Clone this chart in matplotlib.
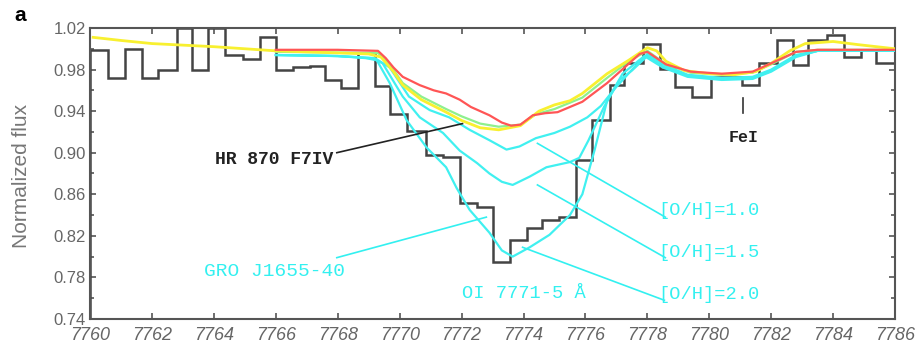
import matplotlib
matplotlib.use("Agg")
from matplotlib import pyplot as plt
from matplotlib.ticker import MultipleLocator

# observed spectrum of HR 870 (histogram): bin edges and flux
hr_edges = [7760.0, 7760.58, 7761.13, 7761.68, 7762.2, 7762.8, 7763.3, 7763.8, 7764.35,
            7764.95, 7765.5, 7766.0, 7766.55, 7767.1, 7767.6, 7768.1, 7768.65, 7769.2,
            7769.7, 7770.25, 7770.85, 7771.4, 7771.95, 7772.5, 7773.0, 7773.55, 7774.1,
            7774.6, 7775.15, 7775.7, 7776.2, 7776.8, 7777.25, 7777.85, 7778.4, 7778.9,
            7779.45, 7780.05, 7781.05, 7781.6, 7782.2, 7782.7, 7783.2, 7783.8, 7784.35,
            7784.9, 7785.4, 7786.0]
hr_flux = [0.999, 0.972, 1.000, 0.972, 0.980, 1.020, 0.980, 1.020, 0.994,
           0.990, 1.011, 0.980, 0.982, 0.983, 0.970, 0.962, 0.996, 0.964,
           0.937, 0.921, 0.898, 0.896, 0.852, 0.848, 0.795, 0.816, 0.828,
           0.835, 0.838, 0.893, 0.931, 0.965, 0.986, 1.005, 0.981, 0.963,
           0.954, 0.973, 0.965, 0.986, 1.008, 0.984, 1.008, 1.013, 0.992,
           0.999, 0.986]

yellow_wl = [7760.1, 7761, 7762, 7764, 7766, 7767, 7768, 7769, 7769.4, 7769.8, 7770.1,
             7770.7, 7771.5, 7772.0, 7772.6, 7773.2, 7773.9, 7774.5, 7775.0, 7775.5,
             7775.9, 7776.7, 7777.4, 7778.0, 7778.3, 7778.6, 7779.2, 7780.0, 7780.8,
             7781.5, 7782.0, 7782.6, 7783.1, 7784.0, 7784.8, 7786.0]
yellow_fl = [1.011, 1.008, 1.005, 1.002, 0.998, 0.997, 0.996, 0.995, 0.992, 0.978, 0.965,
             0.951, 0.939, 0.931, 0.924, 0.922, 0.926, 0.940, 0.946, 0.950,
             0.957, 0.976, 0.989, 1.001, 0.998, 0.988, 0.979, 0.976, 0.975,
             0.978, 0.986, 0.998, 1.005, 1.007, 1.004, 1.000]

red_wl = [7766, 7768, 7769.3, 7769.55, 7769.8, 7770.1, 7770.65, 7771.1, 7771.5, 7771.94,
          7772.3, 7772.9, 7773.3, 7773.6, 7773.9, 7774.3, 7774.7, 7775.1, 7775.9, 7776.7,
          7777.3, 7777.75, 7778.0, 7778.6, 7779.4, 7780.4, 7781.4, 7782.0, 7782.8, 7783.5,
          7786]
red_fl = [0.999, 0.999, 0.998, 0.991, 0.982, 0.973, 0.965, 0.960, 0.957, 0.951,
          0.944, 0.936, 0.929, 0.926, 0.927, 0.936, 0.938, 0.939, 0.949, 0.967,
          0.983, 0.995, 0.997, 0.985, 0.978, 0.976, 0.978, 0.986, 0.997, 0.999,
          0.999]

green_wl = [7766, 7769.3, 7769.6, 7770.1, 7770.7, 7771.5, 7772.0, 7772.6, 7773.2, 7773.9,
            7774.4, 7775.0, 7775.9, 7776.7, 7777.4, 7778.0, 7778.6, 7779.4, 7780.4,
            7781.4, 7782.0, 7782.8, 7783.5, 7786]
green_fl = [0.997, 0.996, 0.988, 0.967, 0.954, 0.942, 0.935, 0.928, 0.925, 0.927,
            0.937, 0.942, 0.953, 0.972, 0.988, 0.998, 0.985, 0.977, 0.975,
            0.977, 0.985, 0.997, 0.999, 0.999]

oh10_wl = [7766, 7768, 7769.2, 7769.68, 7770.3, 7770.97, 7771.6, 7772.26, 7772.9, 7773.45,
           7773.87, 7774.4, 7775.0, 7775.5, 7776.06, 7776.5, 7776.9, 7777.6, 7778.0,
           7778.5, 7779.3, 7780.4, 7781.4, 7782.0, 7782.8, 7783.5, 7786]
oh10_fl = [0.994, 0.993, 0.991, 0.982, 0.954, 0.941, 0.934, 0.922, 0.912, 0.903,
           0.906, 0.914, 0.919, 0.925, 0.934, 0.945, 0.960, 0.983, 0.995,
           0.985, 0.975, 0.972, 0.973, 0.980, 0.994, 0.998, 0.998]

oh15_wl = [7766, 7768, 7769.1, 7769.45, 7770.1, 7770.65, 7771.4, 7771.94, 7772.5, 7772.9,
           7773.3, 7773.65, 7774.2, 7774.74, 7775.5, 7775.8, 7776.1, 7776.6, 7777.1,
           7777.5, 7778.0, 7778.5, 7779.3, 7780.4, 7781.4, 7782.0, 7782.8, 7783.5, 7786]
oh15_fl = [0.994, 0.993, 0.991, 0.986, 0.954, 0.934, 0.919, 0.902, 0.890, 0.880,
           0.872, 0.869, 0.877, 0.886, 0.891, 0.895, 0.912, 0.944, 0.970,
           0.979, 0.993, 0.983, 0.974, 0.971, 0.972, 0.979, 0.993, 0.998, 0.998]

oh20_wl = [7766, 7768, 7768.9, 7769.26, 7769.68, 7770.23, 7770.87, 7771.5, 7771.84, 7772.26,
           7772.9, 7773.3, 7773.65, 7774.2, 7774.84, 7775.5, 7775.9, 7776.3, 7776.7,
           7777.2, 7777.9, 7778.5, 7779.3, 7780.4, 7781.4, 7782.0, 7782.8, 7783.5, 7786]
oh20_fl = [0.994, 0.993, 0.991, 0.989, 0.967, 0.931, 0.905, 0.886, 0.866, 0.845,
           0.823, 0.806, 0.800, 0.809, 0.821, 0.840, 0.860, 0.903, 0.950,
           0.976, 0.993, 0.982, 0.973, 0.970, 0.971, 0.978, 0.992, 0.998, 0.998]

# labels: text, text position, pointer start, pointer end, colour, weight, size
labels = [
    ("HR 870 F7IV", (7765.95, 0.893), (7767.97, 0.900), (7772.03, 0.928), '#222222', 'bold', 13),
    ("GRO J1655-40", (7765.95, 0.786), (7767.97, 0.799), (7772.8, 0.838), '#33f0f0', 'normal', 14),
    ("[O/H]=1.0", (7780.0, 0.844), (7774.45, 0.909), (7778.58, 0.838), '#33f0f0', 'normal', 13.5),
    ("[O/H]=1.5", (7780.0, 0.804), (7774.45, 0.869), (7778.58, 0.799), '#33f0f0', 'normal', 13.5),
    ("[O/H]=2.0", (7780.0, 0.764), (7773.97, 0.809), (7778.55, 0.758), '#33f0f0', 'normal', 13.5),
]

cyan = '#40f0f0'
gray = '#666666'

fig = plt.figure(figsize=(9.15, 3.52), dpi=100)
ax = fig.add_axes([0.0984, 0.0938, 0.8798, 0.8267])

ax.stairs(hr_flux, hr_edges, color='#444444', linewidth=1.8, zorder=2)
ax.plot(oh20_wl, oh20_fl, color=cyan, linewidth=1.6, zorder=3)
ax.plot(oh15_wl, oh15_fl, color=cyan, linewidth=1.6, zorder=3)
ax.plot(oh10_wl, oh10_fl, color=cyan, linewidth=1.6, zorder=3)
ax.plot(green_wl, green_fl, color='#8ef08e', linewidth=1.6, zorder=4)
ax.plot(yellow_wl, yellow_fl, color='#f8f030', linewidth=2.0, zorder=5)
ax.plot(red_wl, red_fl, color='#ff5555', linewidth=1.6, zorder=6)

for text, pos, p0, p1, col, weight, size in labels:
    ax.plot([p0[0], p1[0]], [p0[1], p1[1]], color=col, linewidth=1.2, zorder=3)
    ax.text(pos[0], pos[1], text, color=col, family='Liberation Mono',
            fontsize=size, fontweight=weight, ha='center', va='center')

ax.text(7774.0, 0.765, "OI 7771-5 Å", color='#33f0f0', family='Liberation Mono',
        fontsize=13.5, ha='center', va='center')

# Fe I marker
ax.plot([7781.1, 7781.1], [0.938, 0.953], color='#333333', linewidth=1.2)
ax.text(7781.1, 0.915, "FeI", color='#222222', family='Liberation Mono',
        fontsize=12, fontweight='bold', ha='center', va='center')

ax.set_xlim(7760, 7786)
ax.set_ylim(0.74, 1.02)
ax.xaxis.set_major_locator(MultipleLocator(2))
ax.yaxis.set_major_locator(MultipleLocator(0.04))
ax.yaxis.set_minor_locator(MultipleLocator(0.02))
ax.tick_params(which='both', direction='in', top=True, right=True, color='#555555',
               width=1.2)
ax.tick_params(which='major', length=4)
ax.tick_params(which='minor', length=3)
ax.tick_params(axis='x', which='major', pad=6)
ax.tick_params(axis='y', which='major', pad=3)
ax.set_xticks(range(7760, 7787, 2))
ax.set_xticklabels([str(v) for v in range(7760, 7787, 2)], color=gray,
                   family='Liberation Sans', fontsize=13, style='italic')
yt = [0.74 + 0.04 * i for i in range(8)]
ax.set_yticks(yt)
ax.set_yticklabels(["%.2f" % v for v in yt], color=gray, family='Liberation Sans',
                   fontsize=12)
for s in ax.spines.values():
    s.set_color('#555555')
    s.set_linewidth(1.5)

fig.text(0.024, 0.5, "Normalized flux", rotation=90, color='#777777',
         family='Liberation Sans', fontsize=15, ha='center', va='center')
fig.text(0.022, 0.957, "a", color='black', family='Liberation Sans', fontsize=15,
         fontweight='bold', ha='center', va='center')

fig.savefig("out.png", dpi=100)
